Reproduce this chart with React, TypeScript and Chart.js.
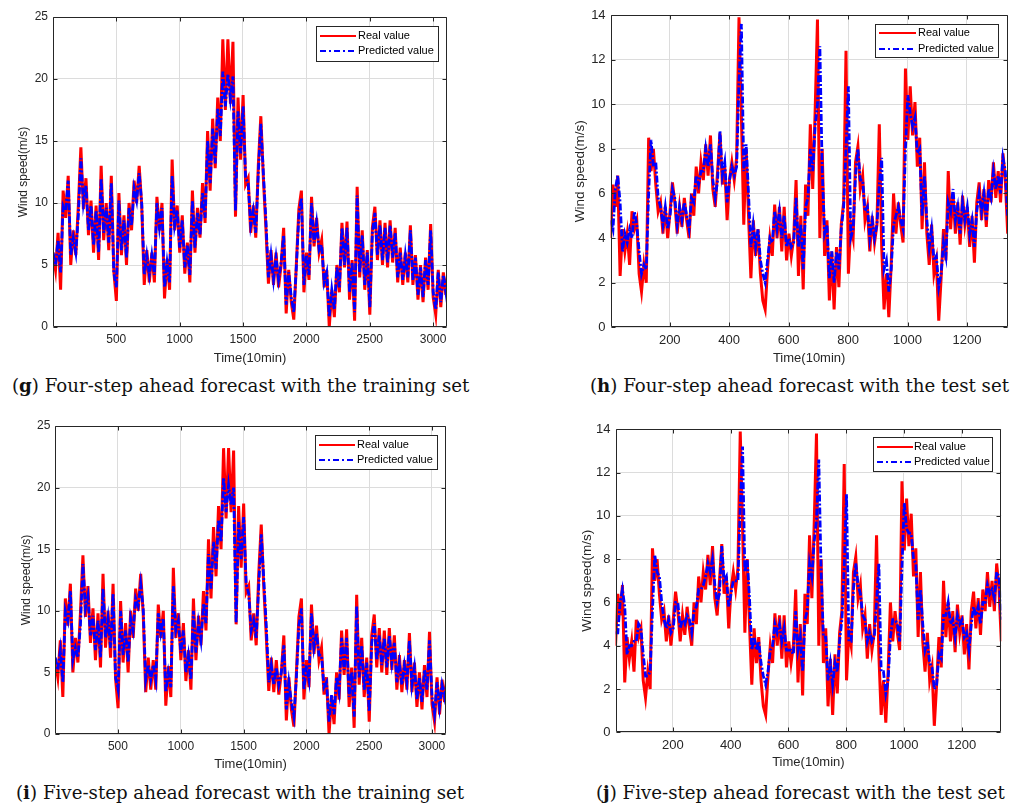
import { useEffect, useRef } from "react";
import { Chart, registerables } from "chart.js";

Chart.register(...registerables);

// ---------- axis definitions ----------
const trainXTicks = [500, 1000, 1500, 2000, 2500, 3000];
const testXTicks = [200, 400, 600, 800, 1000, 1200];
const trainYTicks = [0, 5, 10, 15, 20, 25];
const testYTicks = [0, 2, 4, 6, 8, 10, 12, 14];
const trainStep = 20; // sample spacing (10-min steps) of the values below
const testStep = 8;

// ---------- training set (wind speed, m/s) ----------
const realTrain = [
  6.0, 4.6, 7.6, 3.0, 11.0, 8.8, 12.2, 5.0, 7.8, 5.8,
  9.8, 14.5, 9.5, 12.0, 7.4, 10.2, 6.0, 9.8, 5.4, 13.0,
  7.0, 10.0, 6.2, 12.2, 4.5, 2.1, 10.8, 5.8, 9.0, 5.0,
  10.0, 7.8, 11.8, 10.0, 13.0, 9.8, 3.4, 6.2, 3.6, 6.0,
  3.6, 10.5, 7.8, 10.0, 2.3, 5.5, 3.0, 13.5, 7.8, 9.8,
  6.0, 9.0, 4.3, 6.8, 3.6, 11.0, 6.0, 9.6, 7.2, 11.6,
  8.4, 15.8, 11.0, 16.8, 12.8, 18.5, 15.0, 23.2, 17.5, 23.2,
  18.0, 23.0, 8.9, 18.5, 13.5, 18.7, 11.5, 12.0, 7.6, 9.8,
  7.2, 13.0, 17.0, 12.0, 8.0, 3.5, 6.2, 3.4, 6.0, 3.2,
  5.0, 8.0, 1.1, 4.6, 2.0, 0.6, 5.0, 9.5, 11.0, 2.8,
  6.0, 3.8, 10.5, 6.5, 8.8, 6.0, 7.0, 3.2, 4.6, 0.0,
  3.0, 0.8, 5.0, 2.8, 8.4, 4.8, 8.5, 2.2, 5.4, 0.5,
  11.3, 4.0, 7.8, 3.0, 6.2, 1.0, 8.0, 9.7, 5.4, 8.6,
  5.0, 8.4, 4.8, 8.6, 5.2, 8.0, 3.6, 6.4, 3.4, 6.0,
  3.6, 8.2, 3.4, 5.8, 2.2, 5.0, 2.0, 5.6, 3.0, 8.3,
  2.4, 1.0, 4.6, 1.6, 4.4, 2.6, 5.0,
];
const predTrain4 = [
  6.0, 5.0, 7.0, 4.4, 9.8, 9.4, 11.8, 5.8, 7.2, 6.0,
  9.0, 13.6, 10.0, 11.4, 7.8, 9.8, 6.6, 9.4, 6.0, 12.0,
  7.6, 9.6, 6.8, 11.6, 4.4, 3.2, 10.2, 6.2, 8.6, 5.6,
  9.6, 8.2, 11.2, 10.2, 12.4, 10.0, 4.2, 5.8, 4.2, 5.8,
  4.2, 10.0, 8.0, 9.6, 3.2, 5.2, 3.6, 12.2, 8.2, 9.4,
  6.4, 8.6, 4.8, 6.6, 4.2, 10.2, 6.4, 9.2, 7.4, 10.8,
  8.8, 15.0, 11.6, 16.0, 13.2, 17.6, 15.4, 20.6, 17.8, 20.4,
  18.4, 20.2, 9.4, 17.4, 14.0, 17.8, 12.0, 11.6, 8.2, 9.4,
  7.6, 12.4, 16.4, 12.4, 8.6, 4.0, 5.8, 3.8, 5.6, 3.8,
  5.2, 7.4, 1.8, 4.4, 2.4, 1.2, 4.8, 9.0, 10.4, 3.4,
  5.8, 4.2, 10.0, 6.8, 8.4, 6.2, 6.6, 3.6, 4.4, 0.8,
  3.0, 1.4, 4.8, 3.2, 8.0, 5.0, 8.0, 2.8, 5.2, 1.2,
  10.6, 4.4, 7.4, 3.4, 6.0, 1.6, 7.6, 9.2, 5.8, 8.2,
  5.4, 8.0, 5.2, 8.2, 5.6, 7.6, 4.0, 6.0, 3.8, 5.8,
  4.0, 7.8, 3.8, 5.6, 2.6, 4.8, 2.4, 5.4, 3.4, 7.8,
  2.8, 1.4, 4.4, 2.0, 4.2, 2.8, 4.6,
];
const predTrain5 = [
  6.2, 5.2, 6.8, 4.2, 10.0, 9.2, 11.6, 6.0, 7.0, 6.2,
  8.8, 13.8, 10.2, 11.2, 8.0, 9.6, 6.8, 9.2, 6.2, 11.8,
  7.8, 9.4, 7.0, 11.4, 4.6, 3.6, 10.0, 6.4, 8.4, 5.8,
  9.4, 8.4, 11.0, 10.4, 12.2, 10.2, 4.4, 5.6, 4.4, 5.6,
  4.4, 9.8, 8.2, 9.4, 3.4, 5.0, 3.8, 12.0, 8.4, 9.2,
  6.6, 8.4, 5.0, 6.4, 4.4, 10.0, 6.6, 9.0, 7.6, 10.6,
  9.0, 14.6, 11.8, 15.6, 13.4, 17.4, 15.6, 20.8, 18.0, 20.2,
  18.6, 20.0, 9.0, 17.2, 14.2, 17.6, 12.2, 11.4, 8.4, 9.2,
  7.8, 12.0, 16.2, 12.6, 8.8, 4.2, 5.6, 4.0, 5.4, 4.0,
  5.0, 7.2, 2.0, 4.2, 2.6, 1.4, 4.6, 8.8, 10.2, 3.6,
  5.6, 4.4, 9.8, 7.0, 8.2, 6.4, 6.4, 3.8, 4.2, 1.0,
  3.2, 1.6, 4.6, 3.4, 7.8, 5.2, 7.8, 3.0, 5.0, 1.4,
  10.4, 4.6, 7.2, 3.6, 5.8, 1.8, 7.4, 9.0, 6.0, 8.0,
  5.6, 7.8, 5.4, 8.0, 5.8, 7.4, 4.2, 5.8, 4.0, 5.6,
  4.2, 7.6, 4.0, 5.4, 2.8, 4.6, 2.6, 5.2, 3.6, 7.6,
  3.0, 1.6, 4.2, 2.2, 4.0, 3.0, 4.4,
];

// ---------- test set (wind speed, m/s) ----------
const realTest = [
  4.0, 6.4, 5.4, 6.8, 2.3, 4.4, 3.4, 4.2, 2.8, 5.2,
  4.4, 4.8, 2.4, 1.6, 2.8, 2.0, 8.5, 7.0, 8.0, 6.4,
  5.2, 5.6, 4.2, 5.4, 4.0, 5.2, 6.5, 5.6, 4.2, 5.4,
  4.5, 5.8, 4.8, 4.0, 6.0, 5.0, 7.2, 6.0, 7.4, 6.6,
  8.2, 6.8, 8.6, 6.2, 5.4, 7.0, 8.7, 6.4, 7.2, 4.8,
  6.6, 7.4, 6.6, 7.6, 13.9, 9.5, 4.6, 8.0, 5.0, 2.2,
  4.8, 3.2, 4.4, 2.4, 1.2, 0.8, 2.6, 4.0, 3.2, 5.5,
  4.0, 5.4, 3.4, 5.4, 3.0, 4.2, 3.2, 4.0, 6.6, 2.3,
  5.0, 1.7, 6.4, 5.0, 9.1, 6.2, 9.6, 13.8, 4.0, 8.0,
  3.2, 4.8, 1.2, 3.4, 0.8, 3.6, 1.8, 4.6, 5.6, 12.4,
  2.4, 4.6, 4.0, 7.4, 8.1, 6.2, 6.8, 4.8, 5.4, 3.4,
  5.0, 3.8, 4.6, 9.1, 3.6, 0.8, 2.4, 0.45, 2.8, 6.0,
  4.2, 5.6, 4.6, 3.8, 11.6, 8.4, 10.8, 8.6, 10.1, 7.2,
  8.5, 4.4, 7.4, 4.2, 2.8, 4.6, 2.4, 3.0, 0.3, 2.2,
  4.4, 3.0, 7.0, 4.4, 6.0, 4.2, 5.6, 3.7, 5.9, 4.6,
  5.4, 3.6, 5.0, 2.9, 5.6, 6.5, 4.8, 6.2, 4.5, 6.6,
  5.6, 7.4, 5.8, 7.0, 5.6, 7.8, 6.6, 4.2,
];
const predTest4 = [
  4.8, 4.4, 6.2, 6.8, 5.6, 3.4, 4.2, 3.8, 4.4, 4.0,
  5.2, 4.6, 3.4, 2.4, 2.8, 2.6, 6.0, 8.4, 7.2, 7.4,
  5.8, 5.4, 4.6, 5.4, 4.4, 5.0, 6.2, 5.8, 4.6, 5.4,
  4.8, 5.6, 5.0, 4.4, 5.8, 5.6, 6.8, 6.4, 7.0, 7.0,
  8.0, 7.2, 8.2, 6.6, 5.8, 6.6, 8.8, 6.8, 7.4, 5.6,
  6.6, 7.2, 6.8, 7.2, 11.0, 13.6, 7.0, 8.2, 6.0, 3.6,
  4.6, 3.6, 4.4, 3.0, 2.4, 2.0, 3.0, 4.0, 3.8, 5.2,
  4.4, 5.2, 4.0, 5.0, 3.6, 4.0, 3.6, 3.8, 5.8, 3.6,
  4.6, 2.6, 5.4, 5.8, 8.0, 7.0, 9.0, 10.0, 12.6, 7.0,
  4.2, 4.6, 2.2, 3.4, 2.0, 3.4, 2.6, 4.4, 5.4, 8.0,
  10.8, 4.0, 4.4, 6.8, 8.0, 6.6, 6.6, 5.2, 5.4, 4.0,
  4.8, 4.0, 4.6, 6.4, 7.6, 2.6, 3.0, 1.6, 2.6, 4.6,
  5.0, 5.4, 4.8, 4.4, 8.0, 10.4, 9.6, 9.0, 9.4, 7.8,
  8.0, 5.0, 6.8, 4.8, 3.6, 4.4, 3.0, 3.2, 1.8, 2.4,
  3.8, 3.2, 5.6, 5.2, 6.2, 4.8, 5.4, 4.2, 5.6, 4.8,
  5.4, 4.2, 4.8, 3.6, 5.2, 6.0, 5.2, 6.0, 4.8, 6.2,
  5.8, 7.0, 6.2, 6.8, 6.0, 7.6, 7.0, 5.0,
];
const predTest5 = [
  4.6, 4.6, 6.0, 6.6, 5.8, 3.6, 4.0, 4.0, 4.2, 4.2,
  5.0, 4.8, 3.6, 2.6, 2.6, 2.8, 5.6, 8.2, 7.4, 7.2,
  6.0, 5.2, 4.8, 5.2, 4.6, 4.8, 6.0, 6.0, 4.8, 5.2,
  5.0, 5.4, 5.2, 4.6, 5.6, 5.8, 6.6, 6.6, 6.8, 7.2,
  7.8, 7.4, 8.0, 6.8, 6.0, 6.4, 8.6, 7.0, 7.2, 5.8,
  6.4, 7.0, 7.0, 7.0, 10.4, 13.2, 7.4, 8.0, 6.2, 3.8,
  4.4, 3.8, 4.2, 3.2, 2.6, 2.2, 2.8, 3.8, 4.0, 5.0,
  4.6, 5.0, 4.2, 4.8, 3.8, 3.8, 3.8, 3.6, 5.6, 3.8,
  4.4, 2.8, 5.2, 5.6, 7.8, 7.2, 8.8, 9.8, 12.6, 7.4,
  4.4, 4.4, 2.4, 3.2, 2.2, 3.2, 2.8, 4.2, 5.2, 7.6,
  11.0, 4.2, 4.2, 6.6, 7.8, 6.8, 6.4, 5.4, 5.2, 4.2,
  4.6, 4.2, 4.4, 6.0, 7.8, 2.8, 2.8, 1.8, 2.4, 4.4,
  5.2, 5.2, 5.0, 4.2, 7.6, 10.6, 9.4, 9.2, 9.2, 8.0,
  7.8, 5.2, 6.6, 5.0, 3.8, 4.2, 3.2, 3.0, 2.0, 2.2,
  3.6, 3.4, 5.4, 5.4, 6.0, 5.0, 5.2, 4.4, 5.4, 5.0,
  5.2, 4.4, 4.6, 3.8, 5.0, 5.8, 5.4, 5.8, 5.0, 6.0,
  6.0, 6.8, 6.4, 6.6, 6.2, 7.4, 7.2, 5.2,
];

const captions = {
  g: ["g", " Four-step ahead forecast with the training set"],
  h: ["h", " Four-step ahead forecast with the test set"],
  i: ["i", " Five-step ahead forecast with the training set"],
  j: ["j", " Five-step ahead forecast with the test set"],
};

const AXIS = "#262626";
const SANS = "'Liberation Sans', Arial, sans-serif";

type Spec = {
  canvas: { x: number; y: number; w: number; h: number };
  plot: { l: number; t: number; r: number; b: number };
  real: number[];
  pred: number[];
  step: number;
  xMax: number;
  yMax: number;
  xTicks: number[];
  yTicks: number[];
  tickFont: number;
  yTitleFont: number;
  xTitleFont: number;
  yTitleX: number;
  xTitleY: number;
  legend: { x: number; y: number; w: number; h: number; r1: number; r2: number; l0: number; l1: number; tx: number };
};

const specs: Spec[] = [
  {
    canvas: { x: 0, y: 0, w: 512, h: 372 },
    plot: { l: 53, t: 17, r: 447, b: 327 },
    real: realTrain, pred: predTrain4, step: trainStep, xMax: 3110, yMax: 25,
    xTicks: trainXTicks, yTicks: trainYTicks,
    tickFont: 12, yTitleFont: 12, xTitleFont: 13, yTitleX: 24, xTitleY: 358,
    legend: { x: 316, y: 26, w: 122, h: 35, r1: 36, r2: 51, l0: 320, l1: 356, tx: 358 },
  },
  {
    canvas: { x: 512, y: 0, w: 512, h: 372 },
    plot: { l: 610.6, t: 15, r: 1007.7, b: 327.3 },
    real: realTest, pred: predTest4, step: testStep, xMax: 1337, yMax: 14,
    xTicks: testXTicks, yTicks: testYTicks,
    tickFont: 13, yTitleFont: 13.5, xTitleFont: 13, yTitleX: 580, xTitleY: 358,
    legend: { x: 875, y: 24, w: 123, h: 33, r1: 33, r2: 49, l0: 879, l1: 916, tx: 918 },
  },
  {
    canvas: { x: 0, y: 400, w: 512, h: 380 },
    plot: { l: 55.3, t: 426, r: 445.7, b: 734 },
    real: realTrain, pred: predTrain5, step: trainStep, xMax: 3110, yMax: 25,
    xTicks: trainXTicks, yTicks: trainYTicks,
    tickFont: 12, yTitleFont: 12, xTitleFont: 13, yTitleX: 27, xTitleY: 764,
    legend: { x: 315, y: 435, w: 122, h: 34, r1: 445, r2: 460, l0: 319, l1: 355, tx: 357 },
  },
  {
    canvas: { x: 512, y: 400, w: 512, h: 380 },
    plot: { l: 615.5, t: 429.3, r: 1001.3, b: 732.3 },
    real: realTest, pred: predTest5, step: testStep, xMax: 1337, yMax: 14,
    xTicks: testXTicks, yTicks: testYTicks,
    tickFont: 13, yTitleFont: 13.5, xTitleFont: 13, yTitleX: 587, xTitleY: 762,
    legend: { x: 873, y: 437, w: 119, h: 34, r1: 447, r2: 462, l0: 877, l1: 913, tx: 914 },
  },
];

function Panel({ spec }: { spec: Spec }) {
  const ref = useRef<HTMLCanvasElement>(null);
  useEffect(() => {
    const { canvas: c, plot: p } = spec;
    const padLeft = spec.yTitleX - c.x - 4 - (spec.yTitleFont * 1.2) / 2;
    const yWidth = p.l - c.x - padLeft;
    const xHeight = spec.xTitleY + 4 + (spec.xTitleFont * 1.2) / 2 - p.b;
    const toPts = (arr: number[]) => arr.map((v, i) => ({ x: 1 + i * spec.step, y: v }));

    const frame = {
      id: "frame",
      afterDraw(chart: any) {
        const ctx = chart.ctx as CanvasRenderingContext2D;
        const a = chart.chartArea;
        const xs = chart.scales.x;
        const ys = chart.scales.y;
        ctx.save();
        ctx.setLineDash([]);
        ctx.strokeStyle = AXIS;
        ctx.lineWidth = 1;
        const L = Math.round(a.left) + 0.5, R = Math.round(a.right) - 0.5;
        const T = Math.round(a.top) + 0.5, B = Math.round(a.bottom) - 0.5;
        ctx.beginPath();
        ctx.rect(L, T, R - L, B - T);
        spec.xTicks.forEach((v) => {
          const px = Math.round(xs.getPixelForValue(v)) + 0.5;
          ctx.moveTo(px, B); ctx.lineTo(px, B - 4);
          ctx.moveTo(px, T); ctx.lineTo(px, T + 4);
        });
        spec.yTicks.forEach((v) => {
          const py = Math.round(ys.getPixelForValue(v)) + 0.5;
          ctx.moveTo(L, py); ctx.lineTo(L + 4, py);
          ctx.moveTo(R, py); ctx.lineTo(R - 4, py);
        });
        ctx.stroke();
        const lg = spec.legend;
        const ox = c.x, oy = c.y;
        ctx.fillStyle = "#ffffff";
        ctx.fillRect(lg.x - ox, lg.y - oy, lg.w, lg.h);
        ctx.strokeStyle = "#262626";
        ctx.strokeRect(Math.round(lg.x - ox) + 0.5, Math.round(lg.y - oy) + 0.5, lg.w, lg.h);
        ctx.lineWidth = 2;
        ctx.strokeStyle = "#ff0000";
        ctx.beginPath();
        ctx.moveTo(lg.l0 - ox, lg.r1 - oy); ctx.lineTo(lg.l1 - ox, lg.r1 - oy);
        ctx.stroke();
        ctx.strokeStyle = "#0000ff";
        ctx.setLineDash([6, 3, 2, 3]);
        ctx.beginPath();
        ctx.moveTo(lg.l0 - ox, lg.r2 - oy); ctx.lineTo(lg.l1 - ox, lg.r2 - oy);
        ctx.stroke();
        ctx.setLineDash([]);
        ctx.fillStyle = "#000000";
        ctx.font = `11px ${SANS}`;
        ctx.textBaseline = "middle";
        ctx.textAlign = "left";
        ctx.fillText("Real value", lg.tx - ox, lg.r1 - oy);
        ctx.fillText("Predicted value", lg.tx - ox, lg.r2 - oy);
        ctx.restore();
      },
    };

    const chart = new Chart(ref.current as HTMLCanvasElement, {
      type: "line",
      data: {
        datasets: [
          {
            label: "Predicted value",
            data: toPts(spec.pred),
            borderColor: "#0000ff",
            borderWidth: 2.8,
            borderDash: [7, 2, 2, 2],
            pointRadius: 0,
            fill: false,
            tension: 0,
          },
          {
            label: "Real value",
            data: toPts(spec.real),
            borderColor: "#ff0000",
            borderWidth: 3,
            pointRadius: 0,
            fill: false,
            tension: 0,
          },
        ],
      },
      options: {
        animation: false,
        responsive: false,
        devicePixelRatio: 1,
        events: [],
        layout: {
          padding: {
            left: padLeft,
            top: p.t - c.y,
            right: c.x + c.w - p.r,
            bottom: c.y + c.h - p.b - xHeight,
          },
        },
        plugins: { legend: { display: false }, tooltip: { enabled: false } },
        scales: {
          x: {
            type: "linear",
            min: 1,
            max: spec.xMax,
            afterBuildTicks: (s: any) => { s.ticks = spec.xTicks.map((v) => ({ value: v })); },
            afterFit: (s: any) => { s.height = xHeight; },
            grid: { color: "#dcdcdc", drawTicks: false, lineWidth: 1 },
            border: { display: false },
            ticks: {
              padding: 5, color: AXIS, maxRotation: 0, autoSkip: false,
              font: { family: SANS, size: spec.tickFont },
              callback: (v: any) => String(v),
            },
            title: { display: true, text: "Time(10min)", color: AXIS, padding: { top: 4, bottom: 4 }, font: { family: SANS, size: spec.xTitleFont } },
          },
          y: {
            type: "linear",
            min: 0,
            max: spec.yMax,
            afterBuildTicks: (s: any) => { s.ticks = spec.yTicks.map((v) => ({ value: v })); },
            afterFit: (s: any) => { s.width = yWidth; },
            grid: { color: "#dcdcdc", drawTicks: false, lineWidth: 1 },
            border: { display: false },
            ticks: {
              padding: 5, color: AXIS, autoSkip: false,
              font: { family: SANS, size: spec.tickFont },
              callback: (v: any) => String(v),
            },
            title: { display: true, text: "Wind speed(m/s)", color: AXIS, padding: { top: 4, bottom: 4 }, font: { family: SANS, size: spec.yTitleFont } },
          },
        },
      },
      plugins: [frame],
    } as any);
    return () => chart.destroy();
  }, [spec]);
  const c = spec.canvas;
  return (
    <canvas
      ref={ref}
      width={c.w}
      height={c.h}
      style={{ position: "absolute", left: c.x, top: c.y, width: c.w, height: c.h }}
    />
  );
}

function Caption({ x, y, parts }: { x: number; y: number; parts: string[] }) {
  return (
    <div
      style={{
        position: "absolute",
        left: x,
        top: y,
        fontFamily: "'DejaVu Serif', serif",
        fontSize: 18.2,
        lineHeight: "20px",
        color: "#111",
        whiteSpace: "nowrap",
      }}
    >
      (<b>{parts[0]}</b>){parts[1]}
    </div>
  );
}

export default function App() {
  return (
    <div style={{ position: "absolute", left: 0, top: 0, width: 1024, height: 807, background: "#fff", overflow: "hidden" }}>
      {specs.map((s, k) => (
        <Panel key={k} spec={s} />
      ))}
      <Caption x={12} y={376} parts={captions.g} />
      <Caption x={590} y={376} parts={captions.h} />
      <Caption x={16} y={783} parts={captions.i} />
      <Caption x={596} y={783} parts={captions.j} />
    </div>
  );
}
